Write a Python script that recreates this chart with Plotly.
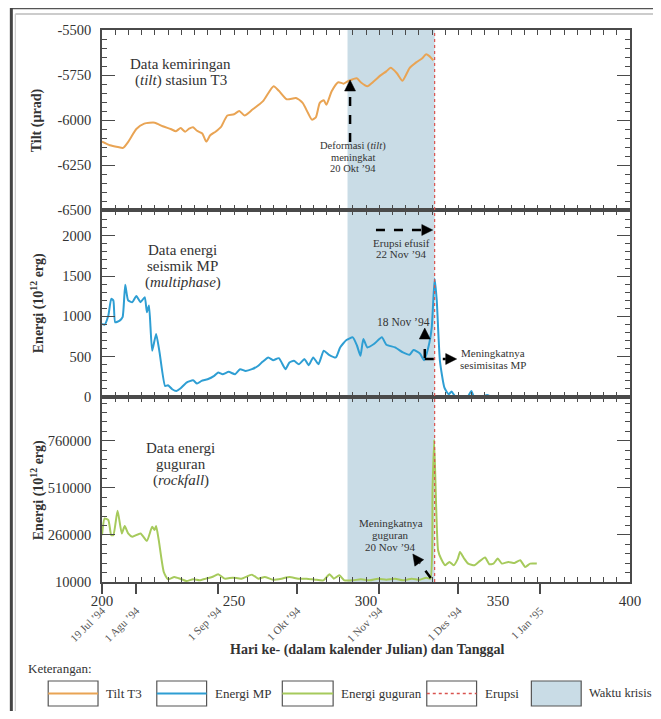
import math
import plotly.graph_objects as go

# ---------------- data ----------------
tilt_day = [200, 203, 206, 208, 210, 213, 216, 220, 223, 226, 228, 229.8, 231.5, 233, 234.5, 236, 238, 239.5,
            241, 243, 245, 247.5, 250, 252, 254, 257, 261, 265, 267, 270, 273.5, 276, 278, 279.5, 281, 282.5,
            284, 285, 287, 289.5, 291.5, 293.5, 296.5, 298, 300.5, 303, 305.5, 307.7, 309.3, 311.7, 313.8,
            316.5, 319, 321.2, 322.8, 324, 325.5]
tilt_val = [-6120, -6140, -6150, -6155, -6120, -6050, -6020, -6015, -6035, -6050, -6062, -6045, -6065, -6048,
            -6040, -6060, -6075, -6120, -6085, -6065, -6040, -5975, -5968, -5950, -5975, -5942, -5895, -5812,
            -5838, -5885, -5878, -5905, -5960, -5998, -5985, -5905, -5890, -5915, -5840, -5790, -5798, -5782,
            -5768, -5790, -5812, -5785, -5752, -5730, -5710, -5740, -5782, -5712, -5680, -5658, -5635, -5645,
            -5668]

mp_day = [200, 201, 202.4, 203.5, 204.3, 205, 206.7, 207.8, 208.8, 209.9, 211.5, 213, 214.6, 216.2, 217,
          217.8, 219, 220.5, 221.8, 223.9, 225, 226.6, 228.2, 229.8, 232, 234.5, 236, 237.7, 240, 242.5, 244,
          245.7, 248, 250.4, 252.3, 254.4, 256.8, 259.2, 260.8, 263, 264.8, 267, 269.5, 271, 272.7, 274.6,
          276.7, 278.3, 280, 282, 284, 286, 288.6, 290.2, 292.6, 295, 296.6, 297.9, 299, 300.5, 303, 306,
          307.7, 311, 314, 316.5, 318, 320.4, 322, 323.6, 324.9, 326, 326.8, 328, 329.7, 331.3, 332.4, 334,
          336.4, 338.7, 339.9, 341, 344.3, 345.9, 347.5]
mp_val = [906, 898, 1010, 1218, 1198, 927, 948, 990, 1393, 1198, 1177, 1252, 1177, 1239, 1052, 1135, 574, 782,
          553, 137, 146, 96, 75, 108, 179, 208, 166, 200, 220, 262, 304, 283, 312, 283, 345, 324, 345, 387, 437,
          491, 457, 482, 345, 428, 449, 407, 470, 395, 491, 407, 574, 524, 491, 615, 707, 740, 636, 511, 719,
          615, 657, 740, 649, 615, 553, 524, 582, 540, 457, 615, 865, 1468, 1198, 449, 116, 33, 67, 0, 0, 12,
          75, 0, 12, 25, 0]

rf_day = [200, 201, 202.4, 203.5, 204.3, 205.9, 207.5, 208.6, 209.9, 211.5, 214.6, 217, 219, 219.9, 220.5,
          221.5, 223.4, 225, 227.4, 229.8, 232, 234.5, 237, 239.3, 241.7, 244, 246.5, 249.6, 252.8, 256.8,
          259.2, 261.6, 264.8, 268, 271, 274.3, 277.5, 280.7, 283.9, 286.2, 287.8, 289.9, 291.8, 295, 298,
          301.4, 304.5, 307.7, 311, 314, 317.3, 320.4, 322.8, 324.4, 325.2, 325.8, 326.5, 327.3, 328.4, 330,
          331.6, 333.2, 334.8, 335.6, 337.2, 338.7, 341.1, 342.7, 345.1, 346.7, 348.3, 349.9, 351.5, 353.9,
          356.3, 358.4, 360.3, 362.2, 364.7]
rf_val = [258800, 347600, 338700, 258800, 258800, 388500, 267700, 306800, 267700, 250000, 267700, 228600,
          303200, 285400, 306800, 232100, 63300, 24200, 36700, 26000, 15300, 24200, 18900, 27800, 36700, 50900,
          27800, 33100, 27800, 49100, 27800, 36700, 22400, 27800, 36700, 27800, 27800, 22400, 18900, 50900,
          27800, 45500, 18900, 18900, 24200, 18900, 27800, 22400, 27800, 18900, 27800, 22400, 33100, 27800,
          498700, 765000, 445400, 178800, 134400, 98800, 116600, 98800, 134400, 169900, 134400, 107700, 98800,
          116600, 139700, 104200, 107700, 134400, 107700, 116600, 111300, 125500, 90000, 107700, 107700]

x_ticks = [200, 250, 300, 350, 400]
date_days = [200, 213, 244, 274, 305, 335, 366]
date_labels = ["19 Jul ’94", "1 Agu ’94", "1 Sep ’94", "1 Okt ’94", "1 Nov ’94", "1 Des ’94", "1 Jan ’95"]
tilt_ticks = [-6500, -6250, -6000, -5750, -5500]
tilt_ticktext = ["-6500", "-6250", "-6000", "-5750", "-5500"]
mp_ticks = [0, 500, 1000, 1500, 2000]
rf_ticks = [10000, 260000, 510000, 760000]
crisis_start, eruption_day = 293, 326

# ---------------- styling ----------------
FONT = "Liberation Serif"
AX = "#4a4a4a"
TXT = "#333333"
C_TILT = "#E9A454"
C_MP = "#2E9ED3"
C_RF = "#A6CA5C"
C_ERU = "#D9534F"
C_SHADE = "#C9DCE6"

# page geometry: the browser body adds 8px of margin on every side,
# so the figure is made 16px smaller to avoid scrollbars
OFF = 8
PAGE_W, PAGE_H = 661, 719
FIG_W, FIG_H = PAGE_W - 2 * OFF, PAGE_H - 2 * OFF
L, R, T, B = 102, 632, 30, 582       # plot area in page pixels
W, H = R - L, B - T


def px(x):
    return (x - L) / W


def py(y):
    return (B - y) / H


fig = go.Figure()
fig.add_trace(go.Scatter(x=tilt_day, y=tilt_val, mode="lines",
                         line=dict(color=C_TILT, width=2, shape="spline", smoothing=0.6),
                         xaxis="x", yaxis="y", showlegend=False))
fig.add_trace(go.Scatter(x=mp_day, y=mp_val, mode="lines",
                         line=dict(color=C_MP, width=2, shape="spline", smoothing=0.5),
                         xaxis="x2", yaxis="y2", showlegend=False))
fig.add_trace(go.Scatter(x=rf_day, y=rf_val, mode="lines",
                         line=dict(color=C_RF, width=2, shape="spline", smoothing=0.5),
                         xaxis="x3", yaxis="y3", showlegend=False))
fig.add_trace(go.Scatter(x=[None], y=[None], xaxis="x4", yaxis="y3", showlegend=False, hoverinfo="skip"))

h1 = (B - 210) / H
h2 = (B - 397) / H

xcommon = dict(range=[200, 400], showline=True, linecolor=AX, linewidth=1.5, mirror="ticks",
               ticks="inside", ticklen=5, tickcolor=AX, tickwidth=1, tickvals=x_ticks,
               minor=dict(dtick=5, tick0=200, ticks="inside", ticklen=5, tickcolor=AX, tickwidth=1),
               showgrid=False, zeroline=False)
ycommon = dict(showline=True, linecolor=AX, linewidth=1.5, mirror="ticks", ticks="inside", ticklen=13,
               tickcolor=AX, tickwidth=1, showgrid=False, zeroline=False,
               tickfont=dict(family=FONT, size=14.5, color=TXT), ticklabelstandoff=6)

fig.update_layout(
    width=FIG_W, height=FIG_H,
    margin=dict(l=L - OFF, r=(PAGE_W - OFF) - R, t=T - OFF, b=(PAGE_H - OFF) - B),
    paper_bgcolor="white", plot_bgcolor="white",
    font=dict(family=FONT, color=TXT),
    xaxis=dict(xcommon, domain=[0, 1], anchor="y", showticklabels=False),
    xaxis2=dict(xcommon, domain=[0, 1], anchor="y2", matches="x", showticklabels=False),
    xaxis3=dict(xcommon, domain=[0, 1], anchor="y3", matches="x", showticklabels=True,
                tickfont=dict(family=FONT, size=15, color=TXT), ticklabelstandoff=4),
    xaxis4=dict(range=[200, 400], overlaying="x3", anchor="y3", side="bottom", showline=False,
                tickmode="array", tickvals=date_days, ticktext=date_labels, ticks="outside", ticklen=11,
                tickcolor=AX, tickwidth=1.5, tickangle=-45, showgrid=False, zeroline=False,
                tickfont=dict(family=FONT, size=11, color="#555"), ticklabelstandoff=6),
    yaxis=dict(ycommon, domain=[h1, 1], anchor="x", range=[-6500, -5500], tickmode="array",
               tickvals=tilt_ticks, ticktext=tilt_ticktext,
               minor=dict(dtick=50, tick0=-6500, ticks="inside", ticklen=5, tickcolor=AX)),
    yaxis2=dict(ycommon, domain=[h2, h1], anchor="x2", range=[0, 2320], tickmode="array",
                tickvals=mp_ticks, ticktext=[str(v) for v in mp_ticks],
                minor=dict(dtick=100, tick0=0, ticks="inside", ticklen=5, tickcolor=AX)),
    yaxis3=dict(ycommon, domain=[0, h2], anchor="x3", range=[10000, 992000], tickmode="array",
                tickvals=rf_ticks, ticktext=[str(v) for v in rf_ticks],
                minor=dict(dtick=50000, tick0=10000, ticks="inside", ticklen=5, tickcolor=AX)),
)

shapes = []
# crisis period shading and eruption line
shapes.append(dict(type="rect", xref="x", yref="paper", x0=crisis_start, x1=eruption_day, y0=0, y1=1,
                   fillcolor=C_SHADE, line=dict(width=0), layer="below"))
shapes.append(dict(type="line", xref="x", yref="paper", x0=eruption_day, x1=eruption_day, y0=0, y1=1,
                   line=dict(color=C_ERU, width=1.2, dash="dot"), layer="above"))

# outer frame
shapes.append(dict(type="line", xref="paper", yref="paper", x0=px(10), x1=px(680), y0=py(8), y1=py(8),
                   line=dict(color="#555", width=2.5)))
shapes.append(dict(type="line", xref="paper", yref="paper", x0=px(11), x1=px(11), y0=py(7), y1=py(740),
                   line=dict(color="#444", width=3)))
shapes.append(dict(type="line", xref="paper", yref="paper", x0=px(15), x1=px(680), y0=py(14), y1=py(14),
                   line=dict(color="#bbb", width=1.5)))
shapes.append(dict(type="line", xref="paper", yref="paper", x0=px(15), x1=px(15), y0=py(14), y1=py(740),
                   line=dict(color="#ccc", width=1.2)))


def dline(x0, y0, x1, y1):
    shapes.append(dict(type="line", xref="paper", yref="paper", x0=px(x0), y0=py(y0), x1=px(x1), y1=py(y1),
                       line=dict(color="black", width=2.5, dash="dash"), layer="above"))


def head(xt, yt, xs, ys, length=11, half=5.5):
    dx, dy = xt - xs, yt - ys
    n = math.hypot(dx, dy)
    ux, uy = dx / n, dy / n
    bx, by = xt - ux * length, yt - uy * length
    p1 = (bx - uy * half, by + ux * half)
    p2 = (bx + uy * half, by - ux * half)
    path = "M {:.5f},{:.5f} L {:.5f},{:.5f} L {:.5f},{:.5f} Z".format(
        px(xt), py(yt), px(p1[0]), py(p1[1]), px(p2[0]), py(p2[1]))
    shapes.append(dict(type="path", xref="paper", yref="paper", path=path, fillcolor="black",
                       line=dict(color="black", width=0.5), layer="above"))


# arrows (tip, then a point behind it)
dline(351, 142, 351, 92); head(351, 80, 351, 95)
dline(377, 230, 424, 230); head(434, 230, 420, 230)
dline(426, 358, 426, 340); head(426, 328, 426, 342)
dline(426, 359, 447, 359); head(458, 359, 444, 359)
dline(432, 578, 421, 563); head(414, 554, 422, 565)

annotations = []


def text(x, y, s, size=14, color=TXT, **kw):
    annotations.append(dict(xref="paper", yref="paper", x=px(x), y=py(y), text=s, showarrow=False,
                            font=dict(family=FONT, size=size, color=color), xanchor="center",
                            yanchor="middle", **kw))


text(181, 64, "Data kemiringan", 15)
text(181, 81, "(<i>tilt</i>) stasiun T3", 15)
text(354, 146, "Deformasi (<i>tilt</i>)", 10.5)
text(354, 157, "meningkat", 10.5)
text(354, 168, "20 Okt ’94", 10.5)

text(183, 250, "Data energi", 15)
text(183, 266, "seismik MP", 15)
text(183, 282, "(<i>multiphase</i>)", 15)
text(403, 243, "Erupsi efusif", 11)
text(403, 254, "22 Nov ’94", 11)
text(405, 322, "18 Nov ’94", 11.5)
text(494, 353, "Meningkatnya", 11)
text(494, 365, "sesimisitas MP", 11)

text(181, 448, "Data energi", 15)
text(181, 464, "guguran", 15)
text(181, 480, "(<i>rockfall</i>)", 15)
text(392, 523, "Meningkatnya", 11)
text(392, 535, "guguran", 11)
text(392, 547, "20 Nov ’94", 11)

# y-axis titles
text(37, 120, "<b>Tilt (µrad)</b>", 14, textangle=-90)
text(37, 303, "<b>Energi (10<sup>12</sup> erg)</b>", 14, textangle=-90)
text(37, 490, "<b>Energi (10<sup>12</sup> erg)</b>", 14, textangle=-90)

# x-axis title
text(368, 650, "<b>Hari ke- (dalam kalender Julian) dan Tanggal</b>", 14)

# legend
annotations.append(dict(xref="paper", yref="paper", x=px(26), y=py(668), text="Keterangan:", showarrow=False,
                        xanchor="left", yanchor="middle", font=dict(family=FONT, size=13, color=TXT)))
leg = [(48, 98, "Tilt T3", C_TILT, "solid", 13), (157, 207, "Energi MP", C_MP, "solid", 13),
       (283, 334, "Energi guguran", C_RF, "solid", 13), (428, 478, "Erupsi", C_ERU, "dot", 13),
       (533, 583, "Waktu krisis", None, None, 12.5)]
for x0, x1, lab, col, dash, fs in leg:
    shapes.append(dict(type="rect", xref="paper", yref="paper", x0=px(x0), x1=px(x1), y0=py(706), y1=py(681),
                       line=dict(color="#555", width=1.2), fillcolor=(C_SHADE if col is None else "white")))
    if col is not None:
        shapes.append(dict(type="line", xref="paper", yref="paper", x0=px(x0), x1=px(x1), y0=py(693.5),
                           y1=py(693.5), line=dict(color=col, width=2 if dash == "solid" else 1.3, dash=dash)))
    annotations.append(dict(xref="paper", yref="paper", x=px(x1 + 6), y=py(693), text=lab, showarrow=False,
                            xanchor="left", yanchor="middle", font=dict(family=FONT, size=fs, color=TXT)))

fig.update_layout(shapes=shapes, annotations=annotations)
fig.write_html("out.html")
